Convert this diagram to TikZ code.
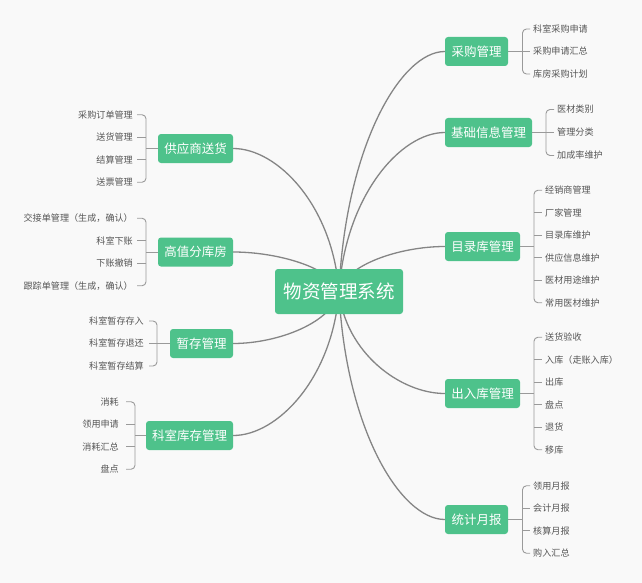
\documentclass[tikz,border=0pt]{standalone}
\usepackage{fontspec}
\setmainfont{Noto Sans CJK SC}
\usetikzlibrary{calc}
\pgfdeclarelayer{bg}
\pgfsetlayers{bg,main}
\definecolor{mgreen}{HTML}{4EC28B}
\definecolor{leafgray}{HTML}{555555}
\definecolor{conngray}{HTML}{858585}
\definecolor{bracegray}{HTML}{9A9A9A}
\definecolor{bgc}{HTML}{F9F9F9}
\newcommand\mconn[2]{\draw[conn] let \p1=(#1.center), \p2=(#2) in (\p1) .. controls ({\x1+0.06*(\x2-\x1)},{\y1+0.6*(\y2-\y1)}) and ({\x1+0.58*(\x2-\x1)},\y2) .. (\p2);}
\begin{document}
\begin{tikzpicture}[x=1pt,y=-1pt,
  branch/.style={fill=mgreen, rounded corners=3pt, text=white, font=\fontsize{12.5}{13}\selectfont, minimum height=29pt, inner sep=0pt},
  root/.style={fill=mgreen, rounded corners=3pt, text=white, font=\fontsize{18.5}{20}\selectfont, minimum width=128pt, minimum height=45pt, inner sep=0pt},
  rleaf/.style={anchor=west, inner xsep=3pt, inner ysep=0pt, text=leafgray, font=\fontsize{9.1}{10}\selectfont},
  lleaf/.style={anchor=east, inner xsep=4pt, inner ysep=0pt, text=leafgray, font=\fontsize{9.1}{10}\selectfont},
  conn/.style={draw=conngray, line width=1.3pt},
  brc/.style={draw=bracegray, line width=0.9pt, rounded corners=4pt}]
\useasboundingbox (0,0) rectangle (642,583);
\begin{pgfonlayer}{bg}
\fill[bgc] (0,0) rectangle (642,583);
\end{pgfonlayer}

% root
\node[root] (root) at (339,291.5) {物资管理系统};

% right branches
\node[branch, minimum width=63pt] (cg) at (476.5,51.5) {采购管理};
\node[branch, minimum width=87pt] (jc) at (488.5,132.5) {基础信息管理};
\node[branch, minimum width=75pt] (ml) at (482.5,246.5) {目录库管理};
\node[branch, minimum width=75pt] (cr) at (482.5,393.5) {出入库管理};
\node[branch, minimum width=63pt] (tj) at (476.5,519.5) {统计月报};

% left branches
\node[branch, minimum width=75pt] (gy) at (195.5,148.5) {供应商送货};
\node[branch, minimum width=75pt] (gz) at (195.5,252) {高值分库房};
\node[branch, minimum width=63pt] (zc) at (201.5,343.5) {暂存管理};
\node[branch, minimum width=87pt] (ks) at (189.5,435.5) {科室库存管理};

% brace coordinates
\coordinate (cgb) at (522.5,51.5);
\coordinate (jcb) at (546,132.5);
\coordinate (mlb) at (534,246.5);
\coordinate (crb) at (534,393.5);
\coordinate (tjb) at (522.5,519.5);
\coordinate (gyb) at (146,148.5);
\coordinate (gzb) at (146,252);
\coordinate (zcb) at (157,343.5);
\coordinate (ksb) at (135,435.5);

% right leaves
\node[rleaf] (cg1) at (530,29) {科室采购申请};
\node[rleaf] (cg2) at (530,51.5) {采购申请汇总};
\node[rleaf] (cg3) at (530,74) {库房采购计划};

\node[rleaf] (jc1) at (554,109.5) {医材类别};
\node[rleaf] (jc2) at (554,132.5) {管理分类};
\node[rleaf] (jc3) at (554,155.5) {加成率维护};

\node[rleaf] (ml1) at (542,190.25) {经销商管理};
\node[rleaf] (ml2) at (542,212.75) {厂家管理};
\node[rleaf] (ml3) at (542,235.25) {目录库维护};
\node[rleaf] (ml4) at (542,257.75) {供应信息维护};
\node[rleaf] (ml5) at (542,280.25) {医材用途维护};
\node[rleaf] (ml6) at (542,302.75) {常用医材维护};

\node[rleaf] (cr1) at (542,337.25) {送货验收};
\node[rleaf] (cr2) at (542,359.75) {入库（走账入库）};
\node[rleaf] (cr3) at (542,382.25) {出库};
\node[rleaf] (cr4) at (542,404.75) {盘点};
\node[rleaf] (cr5) at (542,427.25) {退货};
\node[rleaf] (cr6) at (542,449.75) {移库};

\node[rleaf] (tj1) at (530,485.75) {领用月报};
\node[rleaf] (tj2) at (530,508.25) {会计月报};
\node[rleaf] (tj3) at (530,530.75) {核算月报};
\node[rleaf] (tj4) at (530,553.25) {购入汇总};

% left leaves
\node[lleaf] (gy1) at (137,114.75) {采购订单管理};
\node[lleaf] (gy2) at (137,137.25) {送货管理};
\node[lleaf] (gy3) at (137,159.75) {结算管理};
\node[lleaf] (gy4) at (137,182.25) {送票管理};

\node[lleaf] (gz1) at (137,218.25) {交接单管理（生成，确认）};
\node[lleaf] (gz2) at (137,240.75) {科室下账};
\node[lleaf] (gz3) at (137,263.25) {下账撤销};
\node[lleaf] (gz4) at (137,285.75) {跟踪单管理（生成，确认）};

\node[lleaf, inner xsep=5pt] (zc1) at (149,321) {科室暂存存入};
\node[lleaf, inner xsep=5pt] (zc2) at (149,343.5) {科室暂存退还};
\node[lleaf, inner xsep=5pt] (zc3) at (149,366) {科室暂存结算};

\node[lleaf, inner xsep=7pt] (ks1) at (126,401.75) {消耗};
\node[lleaf, inner xsep=7pt] (ks2) at (126,424.25) {领用申请};
\node[lleaf, inner xsep=7pt] (ks3) at (126,446.75) {消耗汇总};
\node[lleaf, inner xsep=7pt] (ks4) at (126,469.25) {盘点};

% connectors and braces
\begin{pgfonlayer}{bg}
\mconn{root}{cg.west}
\mconn{root}{jc.west}
\mconn{root}{ml.west}
\mconn{root}{cr.west}
\mconn{root}{tj.west}
\mconn{root}{gy.east}
\mconn{root}{gz.east}
\mconn{root}{zc.east}
\mconn{root}{ks.east}

% right braces
\draw[brc] (cg1.west) -- (cg1.west -| cgb) -- (cg3.west -| cgb) -- (cg3.west);
\draw[brc] (cg.east) -- (cg2.west);

\draw[brc] (jc1.west) -- (jc1.west -| jcb) -- (jc3.west -| jcb) -- (jc3.west);
\draw[brc] (jc.east) -- (jc2.west);

\draw[brc] (ml1.west) -- (ml1.west -| mlb) -- (ml6.west -| mlb) -- (ml6.west);
\foreach \k in {2,3,4,5} \draw[brc] (ml\k.west -| mlb) -- (ml\k.west);
\draw[brc] (ml.east) -- (mlb);

\draw[brc] (cr1.west) -- (cr1.west -| crb) -- (cr6.west -| crb) -- (cr6.west);
\foreach \k in {2,3,4,5} \draw[brc] (cr\k.west -| crb) -- (cr\k.west);
\draw[brc] (cr.east) -- (crb);

\draw[brc] (tj1.west) -- (tj1.west -| tjb) -- (tj4.west -| tjb) -- (tj4.west);
\foreach \k in {2,3} \draw[brc] (tj\k.west -| tjb) -- (tj\k.west);
\draw[brc] (tj.east) -- (tjb);

% left braces
\draw[brc] (gy1.east) -- (gy1.east -| gyb) -- (gy4.east -| gyb) -- (gy4.east);
\foreach \k in {2,3} \draw[brc] (gy\k.east -| gyb) -- (gy\k.east);
\draw[brc] (gy.west) -- (gyb);

\draw[brc] (gz1.east) -- (gz1.east -| gzb) -- (gz4.east -| gzb) -- (gz4.east);
\foreach \k in {2,3} \draw[brc] (gz\k.east -| gzb) -- (gz\k.east);
\draw[brc] (gz.west) -- (gzb);

\draw[brc] (zc1.east) -- (zc1.east -| zcb) -- (zc3.east -| zcb) -- (zc3.east);
\draw[brc] (zc.west) -- (zc2.east);

\draw[brc] (ks1.east) -- (ks1.east -| ksb) -- (ks4.east -| ksb) -- (ks4.east);
\foreach \k in {2,3} \draw[brc] (ks\k.east -| ksb) -- (ks\k.east);
\draw[brc] (ks.west) -- (ksb);
\end{pgfonlayer}
\end{tikzpicture}
\end{document}
